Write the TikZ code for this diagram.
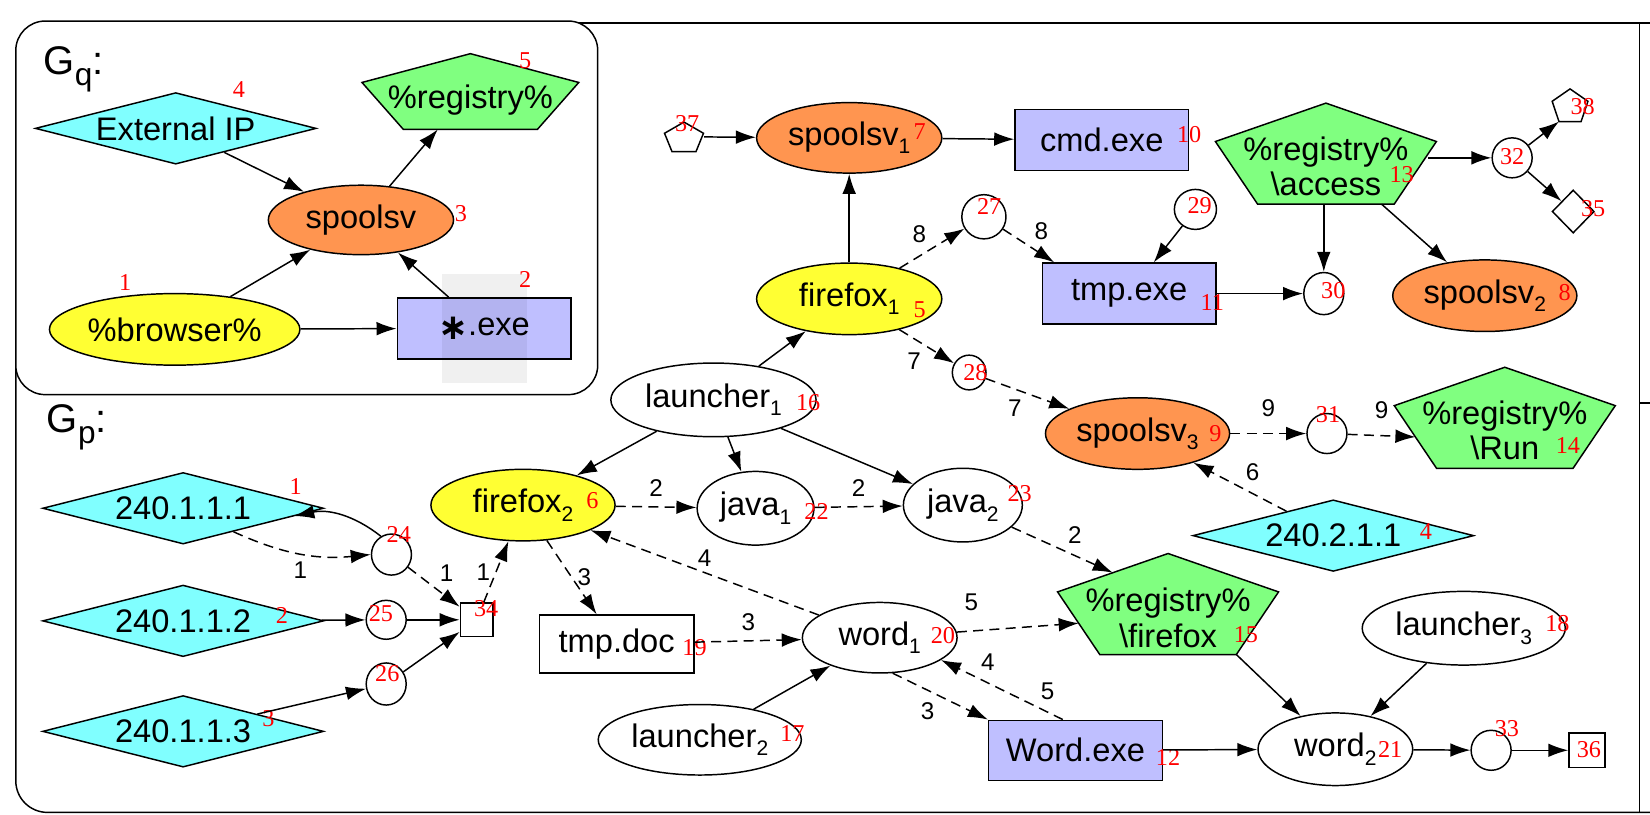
\documentclass[tikz,border=0pt]{standalone}
\usepackage{fontspec}
\setmainfont{Liberation Sans}
\newfontfamily\idxfamily{Liberation Serif}
\newfontfamily\symfamily{DejaVu Sans}
\usepackage{tikz}
\usetikzlibrary{arrows.meta,positioning,calc,shapes.geometric}
\tikzset{>={Latex[length=19pt,width=13pt]}}

\definecolor{ipcyan}{HTML}{80FFFF}
\definecolor{ffyellow}{HTML}{FFFF33}
\definecolor{sporange}{HTML}{FF9550}
\definecolor{regreen}{HTML}{80FF80}
\definecolor{exeblue}{HTML}{BFBFFF}

\newcommand{\nsub}[1]{\raisebox{-8pt}{\fontsize{20}{20}\selectfont #1}}
\newcommand{\gsub}[1]{\raisebox{-11pt}{\fontsize{30}{30}\selectfont #1}}

\tikzset{
  nodebase/.style={draw, line width=1.4pt, inner sep=0pt, font=\fontsize{31}{37}\selectfont},
  ipnode/.style={nodebase, diamond, aspect=4, fill=ipcyan, minimum width=267pt, minimum height=68pt},
  procnode/.style={nodebase, ellipse, minimum height=68pt},
  filebox/.style={nodebase, rectangle},
  hub/.style={nodebase, ellipse, minimum width=38pt, minimum height=38pt},
  regtext/.style={align=center, inner sep=0pt, font=\fontsize{31}{34}\selectfont},
  idx/.style={inner sep=0pt, text=red, font=\idxfamily\fontsize{23}{23}\selectfont},
  elabel/.style={inner sep=5pt, font=\fontsize{23}{23}\selectfont},
  flow/.style={dash pattern=on 9.5pt off 6pt},
  gtitle/.style={inner sep=0pt, font=\fontsize{38}{38}\selectfont},
  pics/penta/.style n args={3}{code={
    \draw[fill=#3] (0,-#2/2) -- (#1/2,-0.12*#2) -- (0.309*#1,#2/2)
      -- (-0.309*#1,#2/2) -- (-#1/2,-0.12*#2) -- cycle;
    \coordinate (-T) at (0,-#2/2);
    \coordinate (-L) at (-#1/2,-0.12*#2);
    \coordinate (-R) at (#1/2,-0.12*#2);
    \coordinate (-B) at (0,#2/2);
    \coordinate (-BL) at (-0.309*#1,#2/2);
    \coordinate (-BR) at (0.309*#1,#2/2);
    \coordinate (-UL) at (-#1/4,-0.31*#2);
    \coordinate (-LL) at (-0.4045*#1,0.19*#2);
  }}
}

\begin{document}
\begin{tikzpicture}[x=1pt,y=-1pt,line width=1.4pt]
\useasboundingbox (0,0) rectangle (1568,774);
% frames
\draw (540,22) -- (1568,22);
\draw (1558,22) -- (1558,772);
\draw (1558,383) -- (1568,383);
\draw[rounded corners=30pt] (15,300) -- (15,772) -- (1568,772);
\draw[fill=white,rounded corners=28pt] (15,20) rectangle (568,375);

% G_q
\node[gtitle] (gq) at (70,66) {G\gsub{q}:};
\node[ipnode] (extip) at (167,122) {External IP};
\pic (reg5) at (447,87) {penta={206}{72}{regreen}};
\node[regtext] (regq) at (447,95) {\%registry\%};
\node[procnode, fill=sporange, minimum width=176pt, minimum height=66pt] (spq) at (343,209) {spoolsv};
\node[procnode, fill=ffyellow, minimum width=238pt] (browser) at (166,313) {\%browser\%};
\node[filebox, fill=exeblue, minimum width=165pt, minimum height=58pt] (exe) at (460,312) {{\symfamily\bfseries\fontsize{34}{34}\selectfont\raisebox{-4pt}{∗}}.exe};
\fill[black, opacity=0.06] (420,260) rectangle (501,364);
\node[idx] (q4) at (227,85) {4};
\node[idx] (q5) at (499,58) {5};
\node[idx] (q3) at (438,203) {3};
\node[idx] (q1) at (119,268) {1};
\node[idx] (q2) at (499,266) {2};

\draw[->] (extip) -- (spq);
\draw[->] (spq) -- ([xshift=-31pt]reg5-B);
\draw[->] (browser) -- (spq);
\draw[->] (exe) -- (spq);
\draw[->] (browser) -- (exe);

% G_p
\node[gtitle] (gp) at (73,406) {G\gsub{p}:};
\node[ipnode] (ip1) at (174,483) {240.1.1.1};
\node[ipnode] (ip2) at (174,590) {240.1.1.2};
\node[ipnode] (ip3) at (174,695) {240.1.1.3};
\node[hub, minimum height=39pt] (h24) at (372,527) {};
\node[hub, minimum height=37pt] (h25) at (367,589) {};
\node[hub, minimum height=40pt] (h26) at (367,650) {};
\node[filebox, minimum width=31pt, minimum height=32pt] (s34) at (453,589) {};
\node[procnode, fill=ffyellow, minimum width=175pt] (ff2) at (497,480) {firefox\nsub{2}};
\node[procnode, minimum width=195pt, minimum height=70pt] (la1) at (678,380) {launcher\nsub{1}};
\node[procnode, minimum width=111pt, minimum height=70pt] (j1) at (718,483) {java\nsub{1}};
\node[procnode, minimum width=113pt, minimum height=70pt] (j2) at (915,480) {java\nsub{2}};
\node[filebox, minimum width=147pt, minimum height=55pt] (doc) at (586,612) {tmp.doc};
\node[procnode, minimum width=147pt, minimum height=67pt] (w1) at (836,606) {word\nsub{1}};
\node[procnode, minimum width=193pt, minimum height=67pt] (la2) at (665,703) {launcher\nsub{2}};
\node[filebox, fill=exeblue, minimum width=165pt, minimum height=57pt] (wexe) at (1022,713) {Word.exe};
\pic (r15) at (1110,574) {penta={210}{96}{regreen}};
\node[regtext] (reg15) at (1110,587) {\%registry\%\\\textbackslash firefox};
\node[procnode, minimum width=193pt, minimum height=70pt] (la3) at (1391,597) {launcher\nsub{3}};
\node[procnode, minimum width=147pt, minimum height=69pt] (w2) at (1269,712) {word\nsub{2}};
\node[hub] (h33) at (1417,713) {};
\node[filebox, minimum width=34pt, minimum height=33pt] (s36) at (1508,713) {};
\node[procnode, fill=sporange, minimum width=175pt] (sp3) at (1081,412) {spoolsv\nsub{3}};
\node[hub] (h31) at (1261,412) {};
\pic (r14) at (1430,397) {penta={210}{96}{regreen}};
\node[regtext] (reg14) at (1430,409) {\%registry\%\\\textbackslash Run};
\node[ipnode] (ip4) at (1267,509) {240.2.1.1};
\node[procnode, fill=ffyellow, minimum width=176pt] (ff1) at (807,284) {firefox\nsub{1}};
\node[procnode, fill=sporange, minimum width=176pt, minimum height=67pt] (sp1) at (807,131) {spoolsv\nsub{1}};
\pic (p37) at (650,130) {penta={37}{28}{white}};
\node[inner sep=0pt, minimum width=37pt, minimum height=28pt] (n37) at (650,130) {};
\node[filebox, fill=exeblue, minimum width=165pt, minimum height=58pt] (cmd) at (1047,133) {cmd.exe};
\node[hub, minimum width=42pt, minimum height=42pt] (h27) at (935,206) {};
\node[hub, minimum width=40pt] (h29) at (1136,199) {};
\node[filebox, fill=exeblue, minimum width=165pt, minimum height=58pt] (tmp) at (1073,279) {tmp.exe};
\node[hub, minimum height=40pt] (h30) at (1258,279) {};
\pic (r13) at (1260,146) {penta={210}{96}{regreen}};
\node[regtext] (reg13) at (1260,158) {\%registry\%\\\textbackslash access};
\node[hub] (h32) at (1437,150) {};
\pic (p38) at (1492,100) {penta={34}{31}{white}};
\node[nodebase, diamond, minimum width=40pt, minimum height=41pt] (d35) at (1495,201) {};
\node[procnode, fill=sporange, minimum width=175pt] (sp2) at (1411,281) {spoolsv\nsub{2}};
\node[hub, minimum width=32pt, minimum height=33pt] (h28) at (921,354) {};

\node[idx] (p1) at (281,462) {1};
\node[idx] (p2) at (268,585) {2};
\node[idx] (p3) at (255,683) {3};
\node[idx] (p24) at (379,508) {24};
\node[idx] (p25) at (362,583) {25};
\node[idx] (p26) at (368,640) {26};
\node[idx] (p34) at (462,578) {34};
\node[idx] (p6) at (563,476) {6};
\node[idx] (p16) at (768,383) {16};
\node[idx] (p22) at (776,486) {22};
\node[idx] (p23) at (969,469) {23};
\node[idx] (p19) at (660,615) {19};
\node[idx] (p20) at (896,604) {20};
\node[idx] (p17) at (753,697) {17};
\node[idx] (p12) at (1110,720) {12};
\node[idx] (p15) at (1184,603) {15};
\node[idx] (p18) at (1480,593) {18};
\node[idx] (p21) at (1321,712) {21};
\node[idx] (p33) at (1432,692) {33};
\node[idx] (p36) at (1510,712) {36};
\node[idx] (p9) at (1155,412) {9};
\node[idx] (p31) at (1262,394) {31};
\node[idx] (p14) at (1490,423) {14};
\node[idx] (p4) at (1355,505) {4};
\node[idx] (p5) at (874,294) {5};
\node[idx] (p7) at (874,125) {7};
\node[idx] (p37) at (653,117) {37};
\node[idx] (p10) at (1130,128) {10};
\node[idx] (p27) at (940,196) {27};
\node[idx] (p29) at (1140,195) {29};
\node[idx] (p11) at (1152,287) {11};
\node[idx] (p30) at (1267,276) {30};
\node[idx] (p13) at (1332,166) {13};
\node[idx] (p32) at (1437,149) {32};
\node[idx] (p38) at (1504,101) {38};
\node[idx] (p35) at (1514,198) {35};
\node[idx] (p8) at (1487,278) {8};
\node[idx] (p28) at (927,354) {28};

\draw[->] (h24.120) to[bend right=25] (ip1.-4);
\draw[->,flow] (ip1.-25) to[bend right=15] node[elabel,below=2pt] {1} (h24.west);
\draw[->,flow] (h24) -- node[elabel,above right] {1} (s34);
\draw[->] (ip2) -- (h25);
\draw[->] (h25) -- (s34);
\draw[->] (ip3) -- (h26);
\draw[->] (h26) -- (s34);
\draw[->,flow] (s34) -- node[elabel,left] {1} (ff2);
\draw[->] (la1) -- (ff2);
\draw[->] (la1) -- (ff1);
\draw[->] (la1) -- (j1);
\draw[->] (la1) -- (j2);
\draw[->,flow] (ff2) -- node[elabel,above=4pt] {2} (j1);
\draw[->,flow] (j1) -- node[elabel,above=4pt] {2} (j2);
\draw[->,flow] (ff2) -- node[elabel,right] {3} (doc);
\draw[->,flow] (w1) -- node[elabel,above] {4} (ff2);
\draw[->,flow] (doc) -- node[elabel,above=4pt] {3} (w1);
\draw[->] (la2) -- (w1);
\draw[->,flow] (w1) -- node[elabel,above=14pt,pos=0.12] {5} (r15-LL);
\draw[->,flow] (w1.-70) -- node[elabel,below left] {3} (wexe.north west);
\draw[->,flow] ([xshift=-12pt]wexe.north) -- node[elabel,pos=0.23,above right] {5} node[elabel,pos=0.72,above right] {4} (w1.-20);
\draw[->,flow] (j2) -- node[elabel,above right] {2} (r15-UL);
\draw[->] (r15-BR) -- (w2);
\draw[->] (la3) -- (w2);
\draw[->] (wexe) -- (w2);
\draw[->] (w2) -- (h33);
\draw[->] (h33) -- (s36);
\draw[->] (ff1) -- (sp1);
\draw[->] (n37) -- (sp1);
\draw[->] (sp1) -- (cmd);
\draw[->,flow] (ff1) -- node[elabel,above left] {8} (h27);
\draw[->,flow] (h27) -- node[elabel,above right] {8} ([xshift=12pt]tmp.north west);
\draw[->] (h29) -- (tmp);
\draw[->] (tmp) -- (h30);
\draw[->] (h30 |- r13-B) -- (h30);
\draw[->] ([xshift=-12pt]r13-BR) -- (sp2);
\draw[->] ([xshift=-8pt]r13-R |- h32) -- (h32);
\draw[->] (h32) -- (p38-BL);
\draw[->] (h32) -- (d35);
\draw[->,flow] (ff1) -- node[elabel,below left] {7} (h28);
\draw[->,flow] (h28) -- node[elabel,below left] {7} (sp3);
\draw[->,flow] (sp3) -- node[elabel,above=10pt] {9} (h31);
\draw[->,flow] (h31) -- node[elabel,above=10pt] {9} (r14-LL);
\draw[->,flow] (ip4) -- node[elabel,above right] {6} (sp3);
%\draw[help lines] (0,0) grid[step=50] (1568,774);
\end{tikzpicture}
\end{document}
